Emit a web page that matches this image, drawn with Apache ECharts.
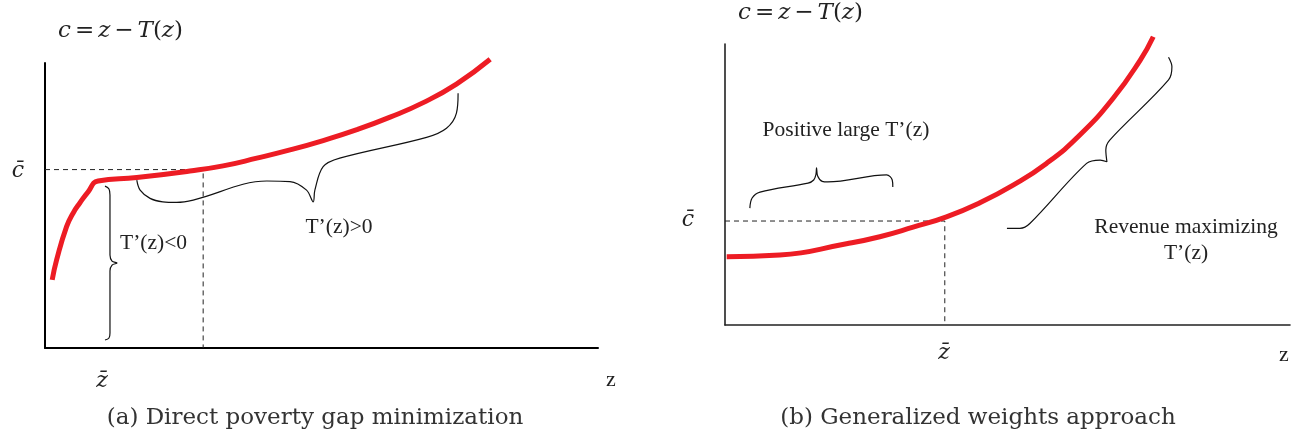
<!DOCTYPE html>
<html><head><meta charset="utf-8">
<script src="https://cdn.jsdelivr.net/npm/echarts@6/dist/echarts.min.js"></script>
<style>html,body{margin:0;padding:0;background:#fff}#c{width:1305px;height:438px}</style>
</head><body><div id="c"></div>
<script>
// Panel (a): consumption curve c = z - T(z), units 0..100 on both axes
const curveA = [[1.3,23.9],[2.1,30.9],[3.9,42.6],[5.1,47.4],[6.3,50.9],[7.8,54.8],[9.6,58.6],[16.6,59.8],[26.2,62.1],[32.2,63.9],[38.3,66.6],[44.3,69.5],[50.3,72.8],[56.4,76.6],[62.4,81.0],[68.4,86.1],[74.4,92.6],[80.5,101.3]];
const guideA = [[0,62.6],[28.6,62.6],[28.6,0]];
const braceA1 = [[10.85,56.8],[11.57,55.8],[11.75,53.7],[11.75,32.6],[12.12,30.5],[13.02,29.8],[12.12,29.1],[11.75,27.0],[11.75,5.3],[11.57,3.5],[10.85,2.8]];
const braceA2 = [[16.6,58.9],[17.2,55.4],[19.0,52.5],[21.3,51.3],[23.8,51.1],[26.8,51.9],[40.1,58.6],[44.3,58.4],[47.3,55.4],[48.5,51.3],[48.8,55.4],[50.3,63.6],[53.3,66.6],[69.0,73.9],[72.6,77.1],[74.4,82.4],[74.7,89.4]];
// Panel (b)
const curveB = [[0.3,24.3],[9.7,24.9],[21.5,28.9],[27.4,31.4],[33.3,34.8],[39.2,38.5],[45.1,43.5],[51.0,49.8],[56.9,57.5],[62.8,67.6],[68.7,80.7],[73.5,94.3],[75.8,102.6]];
const guideB = [[0,37.0],[38.9,37.0],[38.9,0]];
const braceB1 = [[4.4,41.6],[4.8,45.2],[6.2,47.3],[14.7,50.5],[15.7,51.6],[16.1,53.6],[16.2,55.9],[16.4,53.0],[17.2,51.1],[18.2,50.9],[28.6,53.4],[29.6,51.6],[29.7,49.1]];
const braceB2 = [[78.5,95.3],[79.1,91.9],[78.5,87.2],[68.1,65.8],[67.4,62.3],[67.6,58.1],[66.4,58.7],[64.0,57.5],[54.0,36.2],[52.2,34.4],[49.9,34.4]];

const RED = '#ed1c24';
const serif = '"Liberation Serif", "Times New Roman", serif';
const mserif = '"DejaVu Serif", serif';
function axisSet(idx, w, col) {
  const ax = {gridIndex: idx, type: 'value', min: 0, max: 100, axisLine: {show: true, lineStyle: {color: col, width: w}}, axisTick: {show: false}, axisLabel: {show: false}, splitLine: {show: false}};
  return {x: Object.assign({}, ax), y: Object.assign({}, ax)};
}
const a0 = axisSet(0, 2, '#000'), a1 = axisSet(1, 1.6, '#222');
function line(idx, data, style, smooth) {
  return {type: 'line', xAxisIndex: idx, yAxisIndex: idx, data: data, showSymbol: false, symbol: 'none', smooth: smooth, clip: false, lineStyle: style, silent: true, animation: false};
}
function braceLine(idx, data) {
  return line(idx, data, {color: '#111', width: 1.2}, 0.35);
}
const mathRich = {
  i: {fontFamily: mserif, fontStyle: 'italic', fontSize: 23, fill: '#222'},
  r: {fontFamily: mserif, fontSize: 23, fill: '#222', padding: [0, 4, 0, 4]},
  p: {fontFamily: mserif, fontSize: 23, fill: '#222'}
};
const mathText = '{i|c}{r|=}{i|z}{r|\u2212}{i|T}{p|(}{i|z}{p|)}';
function txt(x, y, text, size, opts) {
  opts = opts || {};
  return {type: 'text', x: x, y: y, silent: true, style: {text: text, font: (opts.italic ? 'italic ' : '') + size + 'px ' + (opts.family || serif), fill: opts.fill || '#222', textAlign: opts.align || 'center', textVerticalAlign: 'middle'}};
}
const chart = echarts.init(document.getElementById('c'));
chart.setOption({
  animation: false,
  grid: [
    {left: 45, top: 63, width: 553, height: 285},
    {left: 725, top: 44, width: 565, height: 281}
  ],
  xAxis: [a0.x, a1.x],
  yAxis: [a0.y, a1.y],
  series: [
    line(0, guideA, {color: '#222', width: 1, type: [5, 4]}, false),
    braceLine(0, braceA1),
    braceLine(0, braceA2),
    line(0, curveA, {color: RED, width: 5}, 0.5),
    line(1, guideB, {color: '#222', width: 1, type: [5, 4]}, false),
    braceLine(1, braceB1),
    braceLine(1, braceB2),
    line(1, curveB, {color: RED, width: 5}, 0.5)
  ],
  graphic: [
    {type: 'text', x: 58, y: 31, silent: true, style: {text: mathText, rich: mathRich, textAlign: 'left', textVerticalAlign: 'middle'}},
    {type: 'text', x: 738, y: 13, silent: true, style: {text: mathText, rich: mathRich, textAlign: 'left', textVerticalAlign: 'middle'}},
    txt(18, 171, 'c\u0304', 22, {italic: true, family: mserif}),
    txt(102, 381, 'z\u0304', 22, {italic: true, family: mserif}),
    txt(611, 380, 'z', 22),
    txt(688, 220, 'c\u0304', 22, {italic: true, family: mserif}),
    txt(944, 353, 'z\u0304', 22, {italic: true, family: mserif}),
    txt(1284, 355, 'z', 22),
    txt(120, 243, 'T\u2019(z)<0', 21.5, {align: 'left'}),
    txt(339, 227, 'T\u2019(z)>0', 21.5),
    txt(846, 130, 'Positive large T\u2019(z)', 21.5),
    txt(1186, 227, 'Revenue maximizing', 21.5),
    txt(1186, 253, 'T\u2019(z)', 21.5),
    txt(315, 418, '(a) Direct poverty gap minimization', 23, {family: mserif, fill: '#333'}),
    txt(978, 418, '(b) Generalized weights approach', 23, {family: mserif, fill: '#333'})
  ]
});
</script></body></html>
